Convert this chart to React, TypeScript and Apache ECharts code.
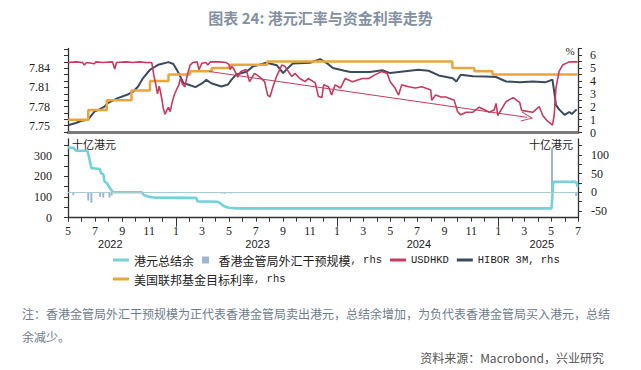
import React, { useEffect, useRef } from 'react';
import * as echarts from 'echarts';

// ---------- data ----------
const X_MIN = '2022-05-01';
const X_MAX = '2025-07-01';

// USDHKD (left axis, top panel)
const usdhkd: [string, number][] = [
  ['2022-05-01', 7.849], ['2022-05-20', 7.85], ['2022-06-03', 7.849], ['2022-06-07', 7.845], ['2022-06-12', 7.849],
  ['2022-06-30', 7.847], ['2022-07-03', 7.85], ['2022-07-20', 7.849], ['2022-08-10', 7.85], ['2022-08-15', 7.839],
  ['2022-08-19', 7.849], ['2022-09-10', 7.85], ['2022-09-25', 7.849], ['2022-10-10', 7.85], ['2022-10-25', 7.849],
  ['2022-11-07', 7.849], ['2022-11-12', 7.828], ['2022-11-16', 7.815], ['2022-11-20', 7.8], ['2022-11-24', 7.812],
  ['2022-11-29', 7.795], ['2022-12-03', 7.778], ['2022-12-07', 7.768], ['2022-12-11', 7.774], ['2022-12-15', 7.779],
  ['2022-12-19', 7.772], ['2022-12-23', 7.786], ['2022-12-28', 7.798], ['2023-01-03', 7.808], ['2023-01-07', 7.813],
  ['2023-01-11', 7.824], ['2023-01-16', 7.815], ['2023-01-21', 7.811], ['2023-01-27', 7.83], ['2023-02-02', 7.845],
  ['2023-02-08', 7.849], ['2023-02-18', 7.85], ['2023-02-22', 7.838], ['2023-03-01', 7.848], ['2023-03-10', 7.849],
  ['2023-03-14', 7.845], ['2023-03-20', 7.85], ['2023-04-10', 7.85], ['2023-04-25', 7.849], ['2023-05-01', 7.846],
  ['2023-05-04', 7.838], ['2023-05-08', 7.843], ['2023-05-13', 7.838], ['2023-05-21', 7.826], ['2023-05-28', 7.835],
  ['2023-06-09', 7.838], ['2023-06-17', 7.819], ['2023-06-28', 7.832], ['2023-07-09', 7.827], ['2023-07-21', 7.819],
  ['2023-07-28', 7.798], ['2023-08-02', 7.795], ['2023-08-10', 7.813], ['2023-08-17', 7.827], ['2023-08-29', 7.845],
  ['2023-09-05', 7.843], ['2023-09-13', 7.835], ['2023-09-21', 7.827], ['2023-09-28', 7.832], ['2023-10-09', 7.824],
  ['2023-10-21', 7.819], ['2023-10-28', 7.824], ['2023-11-13', 7.817], ['2023-11-20', 7.796], ['2023-11-28', 7.794],
  ['2023-12-02', 7.814], ['2023-12-13', 7.811], ['2023-12-20', 7.798], ['2023-12-28', 7.814], ['2024-01-09', 7.809],
  ['2024-01-20', 7.824], ['2024-02-05', 7.819], ['2024-02-28', 7.824], ['2024-03-13', 7.824], ['2024-03-28', 7.83],
  ['2024-04-12', 7.835], ['2024-04-24', 7.832], ['2024-05-01', 7.819], ['2024-05-12', 7.809], ['2024-05-20', 7.798],
  ['2024-05-27', 7.814], ['2024-06-12', 7.811], ['2024-06-27', 7.809], ['2024-07-12', 7.811], ['2024-08-01', 7.806],
  ['2024-08-03', 7.79], ['2024-08-12', 7.798], ['2024-08-24', 7.795], ['2024-09-04', 7.795], ['2024-09-23', 7.79],
  ['2024-10-01', 7.772], ['2024-10-08', 7.767], ['2024-10-20', 7.771], ['2024-11-04', 7.771], ['2024-11-19', 7.779],
  ['2024-12-12', 7.771], ['2024-12-23', 7.775], ['2024-12-27', 7.785], ['2024-12-31', 7.766], ['2025-01-12', 7.78],
  ['2025-01-19', 7.788], ['2025-02-04', 7.794], ['2025-02-19', 7.786], ['2025-02-23', 7.774], ['2025-03-20', 7.771],
  ['2025-04-04', 7.78], ['2025-04-12', 7.766], ['2025-04-23', 7.757], ['2025-05-04', 7.751], ['2025-05-08', 7.766],
  ['2025-05-12', 7.809], ['2025-05-19', 7.835], ['2025-05-27', 7.845], ['2025-06-11', 7.85], ['2025-06-30', 7.85],
];

// HIBOR 3M, % (right axis, top panel)
const hibor3m: [string, number][] = [
  ['2022-05-03', 0.6], ['2022-05-19', 0.75], ['2022-05-30', 0.9], ['2022-06-15', 1.0], ['2022-06-30', 1.63],
  ['2022-07-11', 1.8], ['2022-07-23', 2.02], ['2022-07-30', 2.28], ['2022-08-22', 2.67], ['2022-09-15', 2.97],
  ['2022-09-26', 3.18], ['2022-10-07', 3.57], ['2022-10-18', 4.2], ['2022-11-03', 4.86], ['2022-11-22', 5.25],
  ['2022-12-15', 5.45], ['2022-12-26', 5.3], ['2023-01-07', 4.6], ['2023-01-18', 3.83], ['2023-01-30', 3.7],
  ['2023-02-14', 3.52], ['2023-03-01', 3.8], ['2023-03-11', 4.08], ['2023-03-22', 3.82], ['2023-04-14', 3.57],
  ['2023-04-29', 3.72], ['2023-05-07', 4.1], ['2023-05-18', 4.5], ['2023-06-10', 4.7], ['2023-06-24', 5.1],
  ['2023-07-25', 5.4], ['2023-08-18', 5.2], ['2023-09-01', 4.6], ['2023-09-12', 5.0], ['2023-09-23', 5.35],
  ['2023-11-01', 5.4], ['2023-11-24', 5.68], ['2023-12-10', 5.35], ['2023-12-23', 5.0], ['2024-01-16', 4.8],
  ['2024-02-01', 4.68], ['2024-03-16', 4.68], ['2024-04-13', 4.82], ['2024-05-01', 4.6], ['2024-06-04', 4.75],
  ['2024-07-04', 4.86], ['2024-07-27', 4.78], ['2024-08-19', 4.42], ['2024-09-20', 4.21], ['2024-09-28', 3.95],
  ['2024-10-08', 4.48], ['2024-11-05', 4.35], ['2024-12-04', 4.34], ['2024-12-27', 4.3], ['2025-01-19', 3.95],
  ['2025-02-19', 3.9], ['2025-03-20', 3.95], ['2025-04-19', 3.9], ['2025-05-04', 4.1], ['2025-05-08', 3.18],
  ['2025-05-12', 2.15], ['2025-05-19', 1.8], ['2025-06-01', 1.37], ['2025-06-11', 1.6], ['2025-06-17', 1.45],
  ['2025-06-28', 1.8],
];

// Fed funds target rate (upper bound), % (right axis, top panel), step changes
const fedTarget: [string, number][] = [
  ['2022-05-01', 1.0], ['2022-06-16', 1.75], ['2022-07-28', 2.5], ['2022-09-22', 3.25], ['2022-11-03', 4.0],
  ['2022-12-15', 4.5], ['2023-02-02', 4.75], ['2023-03-23', 5.0], ['2023-05-04', 5.25], ['2023-07-27', 5.5],
  ['2024-09-19', 5.0], ['2024-11-08', 4.75], ['2024-12-19', 4.5], ['2025-06-30', 4.5],
];

// Aggregate balance, HKD bn (left axis, bottom panel)
const aggBalance: [string, number][] = [
  ['2022-05-01', 340], ['2022-05-13', 339], ['2022-05-17', 329], ['2022-05-20', 324], ['2022-06-14', 324],
  ['2022-06-18', 290], ['2022-06-23', 240], ['2022-07-12', 236], ['2022-07-15', 215], ['2022-07-20', 210],
  ['2022-07-23', 175], ['2022-07-28', 168], ['2022-08-02', 150], ['2022-08-07', 134], ['2022-08-12', 124],
  ['2022-10-15', 123], ['2022-10-20', 110], ['2022-10-30', 102], ['2022-11-15', 97], ['2023-02-16', 96],
  ['2023-02-19', 79], ['2023-04-06', 77], ['2023-04-13', 68], ['2023-04-20', 55], ['2023-05-01', 48],
  ['2023-05-20', 45], ['2025-05-02', 45], ['2025-05-04', 110], ['2025-05-06', 174], ['2025-06-25', 174],
  ['2025-06-28', 166], ['2025-06-30', 150],
];

// HKMA FX intervention, HKD bn (right axis, bottom panel)
const hkmaIntervention: [string, number][] = [
  ['2022-05-13', -8], ['2022-06-16', -22], ['2022-06-23', -28], ['2022-07-13', -12], ['2022-07-20', -14],
  ['2022-08-03', -14], ['2022-08-08', -9], ['2023-04-14', -3], ['2023-04-21', -4], ['2023-05-05', -3],
  ['2025-05-03', 118], ['2025-06-27', -10],
];

// trend arrow annotation on USDHKD
const arrowStart: [string, number] = ['2023-03-17', 7.835];
const arrowEnd: [string, number] = ['2025-03-08', 7.763];

// tick labels
const monthLabelDates = [
  '2022-05-01', '2022-07-01', '2022-09-01', '2022-11-01', '2023-01-01', '2023-03-01', '2023-05-01',
  '2023-07-01', '2023-09-01', '2023-11-01', '2024-01-01', '2024-03-01', '2024-05-01', '2024-07-01',
  '2024-09-01', '2024-11-01', '2025-01-01', '2025-03-01', '2025-05-01', '2025-07-01',
];
const yearLabelDates = ['2022-08-05', '2023-07-05', '2024-07-05', '2025-04-10'];
const yearTickDates = ['2023-01-01', '2024-01-01', '2025-01-01'];
const topLeftLabels = [7.75, 7.78, 7.81, 7.84];
const topLeftTicks = [7.74, 7.75, 7.76, 7.77, 7.78, 7.79, 7.8, 7.81, 7.82, 7.83, 7.84, 7.85, 7.86, 7.87];
const topRightLabels = [0, 1, 2, 3, 4, 5, 6];
const topRightTicks = [0, 0.5, 1, 1.5, 2, 2.5, 3, 3.5, 4, 4.5, 5, 5.5, 6, 6.5];
const botLeftLabels = [0, 100, 200, 300];
const botLeftTicks = [0, 50, 100, 150, 200, 250, 300, 350];
const botRightLabels = [-50, 0, 50, 100];
const botRightTicks = [-50, -25, 0, 25, 50, 75, 100, 125];

// ---------- helpers ----------
const toTs = (s: string) => {
  const [y, m, d] = s.split('-').map(Number);
  return Date.UTC(y, m - 1, d);
};
const monthTickDates: number[] = [];
for (let y = 2022, m = 4; y < 2025 || (y === 2025 && m <= 6); ) {
  monthTickDates.push(Date.UTC(y, m, 1));
  m++;
  if (m > 11) { m = 0; y++; }
}

const FONT_SERIF = "'Liberation Serif', 'Times New Roman', serif";
const FONT_CJK = "'Noto Sans CJK SC', 'Noto Sans', sans-serif";
const FONT_MONO = "'Liberation Mono', 'DejaVu Sans Mono', monospace";
const AXIS_COLOR = '#333';
const LINE_ICON = 'path://M0,0H16V3H0Z';
const SQ_ICON = 'path://M0,0H7V7H0Z';

const C_AGG = '#74d3d8';
const C_BAR = '#9fb6d2';
const C_USD = '#c93a5e';
const C_HIBOR = '#3b4a5c';
const C_FED = '#eaa63c';

const legendText = {
  fontFamily: FONT_CJK,
  fontSize: 12,
  color: '#222',
  rich: { l: { fontFamily: FONT_MONO, fontSize: 10.5, color: '#222' } },
};
const legendFormatter = (name: string) => name.replace(/([A-Za-z0-9 ,]+)/g, '{l|$1}');

const valueAxis = (
  gridIndex: number,
  position: 'left' | 'right',
  min: number,
  max: number,
  ticks: number[],
  labels: number[],
  margin: number,
  fmt: (v: number) => string,
) => ({
  type: 'value',
  gridIndex,
  position,
  min,
  max,
  axisLine: { show: true, onZero: false, lineStyle: { color: AXIS_COLOR, width: 1.3 } },
  axisTick: { show: true, length: 4, customValues: ticks, lineStyle: { color: AXIS_COLOR, width: 1 } },
  axisLabel: {
    customValues: labels,
    formatter: fmt,
    margin,
    fontFamily: FONT_SERIF,
    fontSize: 12,
    color: '#222',
  },
  splitLine: { show: false },
});

export default function App() {
  const ref = useRef<HTMLDivElement>(null);

  useEffect(() => {
    if (!ref.current) return;
    const chart = echarts.init(ref.current, undefined, { renderer: 'svg' });
    const xMin = toTs(X_MIN);
    const xMax = toTs(X_MAX);

    const timeAxisBase = {
      type: 'value',
      min: xMin,
      max: xMax,
      scale: true,
      splitLine: { show: false },
    };

    const option: any = {
      animation: false,
      backgroundColor: '#ffffff',
      title: {
        text: '图表 24: 港元汇率与资金利率走势',
        left: 'center',
        top: 5,
        textStyle: { fontFamily: FONT_CJK, fontSize: 15, fontWeight: 'bold', color: '#8391a3' },
      },
      legend: [
        {
          left: 108,
          top: 249,
          itemWidth: 16,
          itemHeight: 7,
          itemGap: 8,
          symbolKeepAspect: true,
          selectedMode: false,
          textStyle: legendText,
          formatter: legendFormatter,
          data: [
            { name: '港元总结余', icon: LINE_ICON },
            { name: '香港金管局外汇干预规模, rhs', icon: SQ_ICON },
            { name: 'USDHKD', icon: LINE_ICON },
            { name: 'HIBOR 3M, rhs', icon: LINE_ICON },
          ],
        },
        {
          left: 108,
          top: 268,
          itemWidth: 16,
          itemHeight: 7,
          symbolKeepAspect: true,
          selectedMode: false,
          textStyle: legendText,
          formatter: legendFormatter,
          data: [{ name: '美国联邦基金目标利率, rhs', icon: LINE_ICON }],
        },
      ],
      grid: [
        { left: 68, top: 48.5, width: 510, height: 84.2 },
        { left: 68, top: 139, width: 510, height: 78.7 },
      ],
      xAxis: [
        {
          ...timeAxisBase,
          gridIndex: 0,
          position: 'bottom',
          axisLine: { show: true, onZero: false, lineStyle: { color: '#7b7b7b', width: 3 } },
          axisTick: { show: false },
          axisLabel: { show: false },
        },
        {
          ...timeAxisBase,
          gridIndex: 1,
          position: 'bottom',
          axisLine: { show: true, onZero: false, lineStyle: { color: AXIS_COLOR, width: 1.3 } },
          axisTick: { show: true, length: 4, customValues: monthTickDates, lineStyle: { color: AXIS_COLOR } },
          axisLabel: {
            customValues: monthLabelDates.map(toTs),
            formatter: (v: number) => String(new Date(v).getUTCMonth() + 1),
            margin: 7,
            fontFamily: FONT_SERIF,
            fontSize: 12,
            color: '#222',
          },
        },
        {
          ...timeAxisBase,
          gridIndex: 1,
          position: 'bottom',
          offset: 0,
          axisLine: { show: false, onZero: false },
          axisTick: { show: true, length: 9, customValues: yearTickDates.map(toTs), lineStyle: { color: AXIS_COLOR } },
          axisLabel: {
            customValues: yearLabelDates.map(toTs),
            formatter: (v: number) => String(new Date(v).getUTCFullYear()),
            margin: 21,
            fontFamily: "'Liberation Sans', Arial, sans-serif",
            fontSize: 11,
            color: '#222',
          },
        },
      ],
      yAxis: [
        valueAxis(0, 'left', 7.739, 7.871, topLeftTicks, topLeftLabels, 18, (v) => v.toFixed(2)),
        valueAxis(0, 'right', 0, 6.5, topRightTicks, topRightLabels, 12, (v) => String(v)),
        valueAxis(1, 'left', 0, 381, botLeftTicks, botLeftLabels, 16, (v) => String(v)),
        valueAxis(1, 'right', -68, 143, botRightTicks, botRightLabels, 13, (v) => String(v)),
      ],
      series: [
        {
          name: '港元总结余',
          type: 'line',
          xAxisIndex: 1,
          yAxisIndex: 2,
          symbol: 'none',
          color: C_AGG,
          lineStyle: { width: 2.6, color: C_AGG },
          data: aggBalance.map(([d, v]) => [toTs(d), v]),
          z: 3,
        },
        {
          name: '香港金管局外汇干预规模, rhs',
          type: 'bar',
          xAxisIndex: 1,
          yAxisIndex: 3,
          barWidth: 2,
          color: C_BAR,
          data: hkmaIntervention.map(([d, v]) => [toTs(d), v]),
          markLine: {
            silent: true,
            symbol: 'none',
            label: { show: false },
            lineStyle: { color: '#a9ccd1', width: 1, type: 'solid' },
            data: [{ yAxis: 0 }],
          },
          z: 2,
        },
        {
          name: 'USDHKD',
          type: 'line',
          xAxisIndex: 0,
          yAxisIndex: 0,
          symbol: 'none',
          color: C_USD,
          lineStyle: { width: 1.6, color: C_USD },
          data: usdhkd.map(([d, v]) => [toTs(d), v]),
          markLine: {
            silent: true,
            symbol: ['none', 'path://M0,10 L5,0 L10,10 L9,10 L5,2 L1,10 Z'],
            symbolSize: [10, 12],
            label: { show: false },
            lineStyle: { color: C_USD, width: 1, type: 'solid' },
            data: [[
              { coord: [toTs(arrowStart[0]), arrowStart[1]] },
              { coord: [toTs(arrowEnd[0]), arrowEnd[1]] },
            ]],
          },
          z: 4,
        },
        {
          name: 'HIBOR 3M, rhs',
          type: 'line',
          xAxisIndex: 0,
          yAxisIndex: 1,
          symbol: 'none',
          color: C_HIBOR,
          lineStyle: { width: 2, color: C_HIBOR },
          data: hibor3m.map(([d, v]) => [toTs(d), v]),
          z: 3,
        },
        {
          name: '美国联邦基金目标利率, rhs',
          type: 'line',
          step: 'end',
          xAxisIndex: 0,
          yAxisIndex: 1,
          symbol: 'none',
          color: C_FED,
          lineStyle: { width: 2.5, color: C_FED },
          data: fedTarget.map(([d, v]) => [toTs(d), v]),
          z: 3,
        },
      ],
      graphic: [
        {
          type: 'text', x: 570, y: 51,
          style: { text: '%', font: `11px ${FONT_SERIF}`, fill: '#222', align: 'center', verticalAlign: 'middle' },
        },
        {
          type: 'text', x: 72, y: 144,
          style: { text: '十亿港元', font: `11px ${FONT_CJK}`, fill: '#222', align: 'left', verticalAlign: 'middle' },
        },
        {
          type: 'text', x: 573, y: 144,
          style: { text: '十亿港元', font: `11px ${FONT_CJK}`, fill: '#222', align: 'right', verticalAlign: 'middle' },
        },
        {
          type: 'text', x: 22, y: 313,
          style: {
            text: '注：香港金管局外汇干预规模为正代表香港金管局卖出港元，总结余增加，为负代表香港金管局买入港元，总结',
            font: `12px ${FONT_CJK}`, fill: '#6f7d8e', align: 'left', verticalAlign: 'middle',
          },
        },
        {
          type: 'text', x: 22, y: 336,
          style: { text: '余减少。', font: `12px ${FONT_CJK}`, fill: '#6f7d8e', align: 'left', verticalAlign: 'middle' },
        },
        {
          type: 'text', x: 604, y: 357,
          style: { text: '资料来源：Macrobond，兴业研究', font: `12px ${FONT_CJK}`, fill: '#555', align: 'right', verticalAlign: 'middle' },
        },
      ],
    };

    chart.setOption(option);
    return () => chart.dispose();
  }, []);

  return (
    <div
      ref={ref}
      style={{ position: 'absolute', left: 0, top: 0, width: 641, height: 370, background: '#fff' }}
    />
  );
}
